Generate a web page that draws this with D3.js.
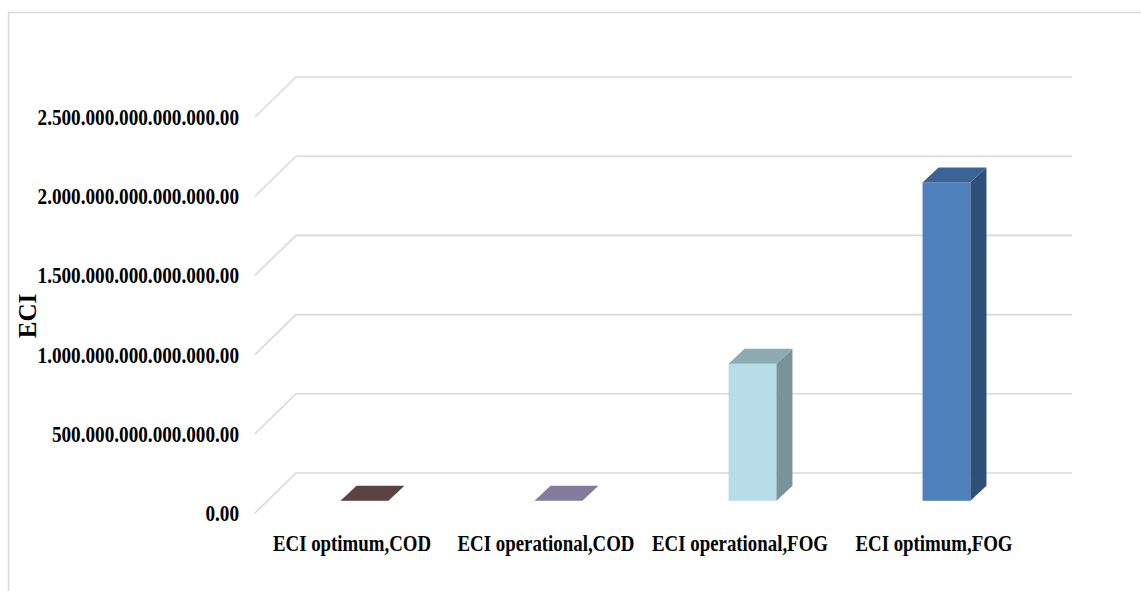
<!DOCTYPE html>
<html>
<head>
<meta charset="utf-8">
<script src="https://cdn.jsdelivr.net/npm/d3@7"></script>
<style>
  body { margin: 0; background: #fff; }
  text { font-family: "Liberation Serif", "Times New Roman", serif; font-weight: bold; fill: #000; }
</style>
</head>
<body>
<div id="chart"></div>
<script>
// data
const categories = ["ECI optimum,COD", "ECI operational,COD", "ECI operational,FOG", "ECI optimum,FOG"];
const eciValues = [1.0e12, 0.8e12, 8.65e14, 2.01e15];
const yTicks = [0, 5e14, 1e15, 1.5e15, 2e15, 2.5e15];
const frontColors = ["#6b5050", "#9a8fb2", "#b7dee8", "#4f81bd"];
const sideColors = ["#4a3434", "#6c6482", "#789399", "#2f5078"];
const topColors = ["#5b4343", "#857b9e", "#8eabb2", "#3b6494"];

class Bar3D {
  constructor() {
    this.svgWidth = 1141;
    this.svgHeight = 591;
    this.margin = {top: 117, bottom: 513, left: 255, right: 1031};
    this.depth = {dx: 41, dy: -40};
    this.svg = d3.select("#chart").append("svg")
      .attr("width", this.svgWidth)
      .attr("height", this.svgHeight);
  }

  draw() {
    let dx = this.depth.dx, dy = this.depth.dy;

    // outer frame
    this.svg.append("rect")
      .attr("x", 8.5).attr("y", 12.5)
      .attr("width", 1300).attr("height", 800)
      .attr("fill", "none").attr("stroke", "#d9d9d9").attr("stroke-width", 1.5);

    let xScale = d3.scaleBand()
      .domain(categories)
      .range([this.margin.left, this.margin.right]);
    let yScale = d3.scaleLinear()
      .domain([0, 2.5e15])
      .range([this.margin.bottom, this.margin.top]);

    // gridlines: diagonal on the left wall + horizontal on the back wall
    let grid = this.svg.append("g").attr("id", "grid");
    grid.selectAll("path").data(yTicks).enter().append("path")
      .attr("d", d => {
        let y = yScale(d);
        return "M" + xScale.range()[0] + "," + y +
               "L" + (xScale.range()[0] + dx) + "," + (y + dy) +
               "L" + (xScale.range()[1] + dx) + "," + (y + dy);
      })
      .attr("fill", "none").attr("stroke", "#d9d9d9").attr("stroke-width", 1.6);

    // y tick labels, dotted thousands like the original
    let fmt = d3.format(",.2f");
    this.svg.append("g").attr("id", "yAxis")
      .selectAll("text").data(yTicks).enter().append("text")
      .attr("transform", d => "translate(" + (xScale.range()[0] - 16) + "," + (yScale(d) + 8) + ") scale(0.8,1)")
      .attr("text-anchor", "end")
      .style("font-size", "24px")
      .text(d => fmt(d).replace(/,/g, "."));

    // y title
    this.svg.append("text")
      .attr("transform", "translate(36,316) rotate(-90)")
      .attr("text-anchor", "middle")
      .style("font-size", "25px")
      .text("ECI");

    // bars
    let barW = xScale.bandwidth() * 0.247;
    let bdx = 16, bdy = -15;
    let off = (1 - bdx / dx) / 2; // bar sits in the middle of the depth
    let bars = this.svg.append("g").attr("id", "bars")
      .selectAll("g").data(eciValues).enter().append("g");

    bars.each(function (d, i) {
      let g = d3.select(this);
      let cx = xScale(categories[i]) + xScale.bandwidth() / 2 + off * dx;
      let x0 = cx - barW / 2, x1 = cx + barW / 2;
      let yb = yScale(0) + off * dy;
      let yt = yScale(d) + off * dy;
      g.append("rect")
        .attr("x", x0).attr("y", yt)
        .attr("width", barW).attr("height", Math.max(0, yb - yt))
        .attr("fill", frontColors[i]);
      g.append("path")
        .attr("d", "M" + x1 + "," + yb + "L" + (x1 + bdx) + "," + (yb + bdy) +
                   "L" + (x1 + bdx) + "," + (yt + bdy) + "L" + x1 + "," + yt + "Z")
        .attr("fill", sideColors[i]);
      g.append("path")
        .attr("d", "M" + x0 + "," + yt + "L" + x1 + "," + yt +
                   "L" + (x1 + bdx) + "," + (yt + bdy) + "L" + (x0 + bdx) + "," + (yt + bdy) + "Z")
        .attr("fill", topColors[i]);
    });

    // category labels
    this.svg.append("g").attr("id", "xAxis")
      .selectAll("text").data(categories).enter().append("text")
      .attr("transform", d => "translate(" + (xScale(d) + xScale.bandwidth() / 2) + ",551) scale(0.82,1)")
      .attr("text-anchor", "middle")
      .style("font-size", "23px")
      .text(d => d);
  }
}

let chart = new Bar3D();
chart.draw();
</script>
</body>
</html>
